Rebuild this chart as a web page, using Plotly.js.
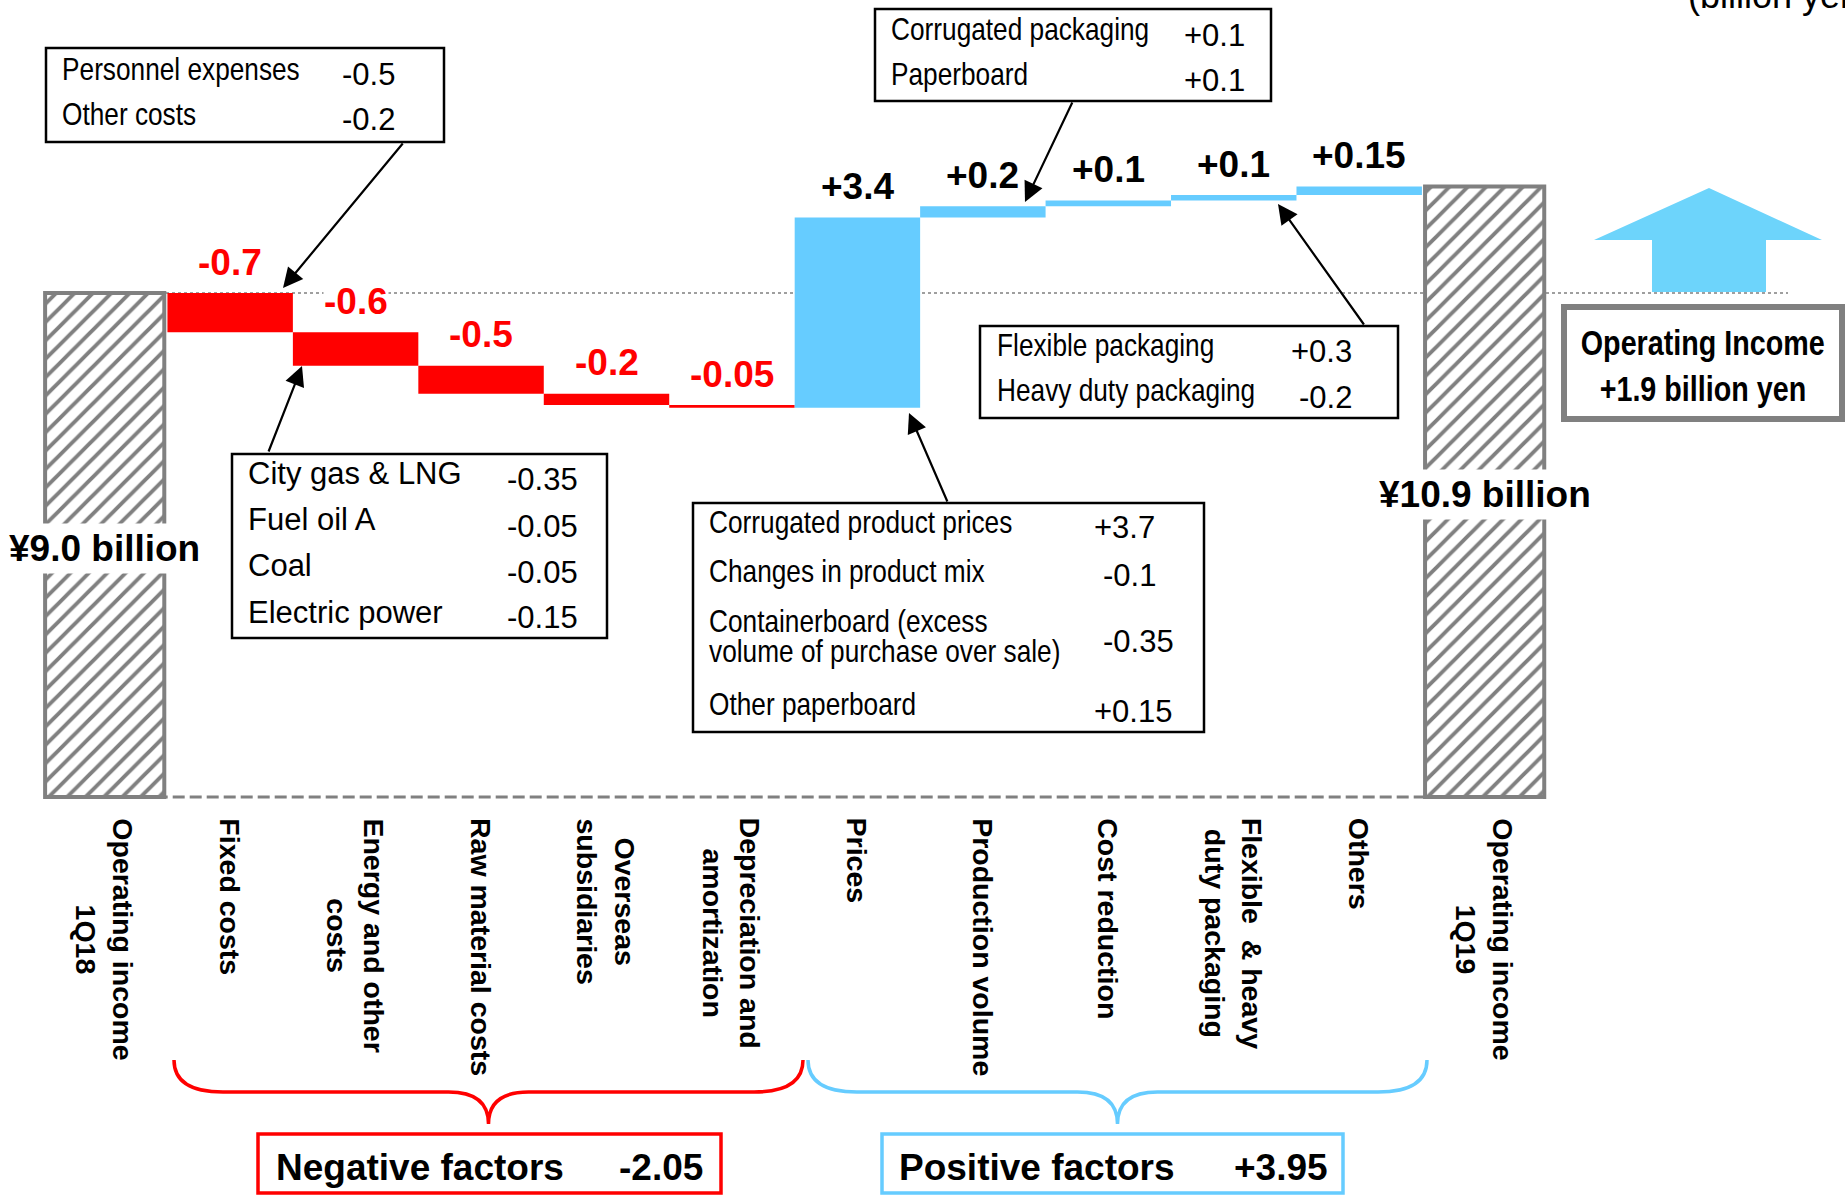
<!DOCTYPE html>
<html><head><meta charset="utf-8">
<script src="https://cdn.plot.ly/plotly-3.0.1.min.js"></script>
<style>html,body{margin:0;padding:0;background:#fff;overflow:hidden;} #chart{width:1845px;height:1195px;}</style>
</head><body><div id="chart"></div>
<script>
// ---------------- data ----------------
const categories = ['Operating income<br>1Q18','Fixed costs','Energy and other<br>costs','Raw material costs','Overseas<br>subsidiaries','Depreciation and<br>amortization','Prices','Production volume','Cost reduction','Flexible\u00a0 & heavy<br>duty packaging','Others','Operating income<br>1Q19'];
const startTotal = 9.0;
const endTotal = 10.9;
const deltas = [-0.7, -0.6, -0.5, -0.2, -0.05, 3.4, 0.2, 0.1, 0.1, 0.15];
const deltaLabels = ['-0.7','-0.6','-0.5','-0.2','-0.05','+3.4','+0.2','+0.1','+0.1','+0.15'];
const totalLabels = ['\u00a59.0 billion','\u00a510.9 billion'];
const fixedCostItems = ['Personnel expenses','Other costs'];
const fixedCostValues = ['-0.5','-0.2'];
const energyItems = ['City gas & LNG','Fuel oil A','Coal','Electric power'];
const energyValues = ['-0.35','-0.05','-0.05','-0.15'];
const priceItems = ['Corrugated product prices','Changes in product mix','Containerboard (excess','volume of purchase over sale)','Other paperboard'];
const priceValues = ['+3.7','-0.1','-0.35','+0.15'];
const productionItems = ['Corrugated packaging','Paperboard'];
const productionValues = ['+0.1','+0.1'];
const flexItems = ['Flexible packaging','Heavy duty packaging'];
const flexValues = ['+0.3','-0.2'];
const negativeSummary = ['Negative factors','-2.05'];
const positiveSummary = ['Positive factors','+3.95'];
const incomeChange = ['Operating Income','+1.9 billion yen'];
const unitLabel = '(billion yen)';

// ---------------- helpers (page pixel -> axis coordinates) ----------------
const X = px => (px - 104.7) / 125.45;
const Y = py => (797 - py) / 56;

const RED = '#FF0000', BLUE = '#66CCFF', GRAY = '#808080';
const SANS = 'Liberation Sans, Arial, sans-serif';
// condensed look: Arial-metric font squeezed horizontally after drawing
const NARROW = 'Liberation Sans, Arial Narrow, sans-serif';

// cumulative bases
const bases = [];
let run = startTotal;
deltas.forEach(d => { bases.push(run); run += d; });
const idx = deltas.map((d, i) => i + 1);
const negIdx = idx.filter((v, i) => deltas[i] < 0);
const posIdx = idx.filter((v, i) => deltas[i] >= 0);

const traces = [
  { type: 'bar', x: [0, categories.length - 1], y: [startTotal, endTotal], base: [0, 0], width: 0.95,
    marker: { color: '#ffffff', line: { color: GRAY, width: 4 },
      pattern: { shape: '/', fgcolor: GRAY, bgcolor: '#ffffff', size: 13, solidity: 0.3, fillmode: 'replace' } },
    hoverinfo: 'skip' },
  { type: 'bar', x: negIdx, y: deltas.filter(d => d < 0), base: bases.filter((b, i) => deltas[i] < 0), width: 1,
    marker: { color: RED, line: { width: 0 } }, hoverinfo: 'skip' },
  { type: 'bar', x: posIdx, y: deltas.filter(d => d >= 0), base: bases.filter((b, i) => deltas[i] >= 0), width: 1,
    marker: { color: BLUE, line: { width: 0 } }, hoverinfo: 'skip' }
];

// ---------------- annotations ----------------
const ann = [];
const narrowIdx = [];
const REG = size => ({ family: SANS, size: size, color: '#000' });
function txt(text, px, py, size, opts, narrow) {
  const a = Object.assign({ xref: 'x', yref: 'y', x: X(px), y: Y(py), text: text, showarrow: false,
    xanchor: 'left', yanchor: 'middle', font: { family: NARROW, size: size, color: '#000' } }, opts || {});
  if (narrow !== false) narrowIdx.push(ann.length);
  return a;
}
// delta value labels
deltas.forEach((d, i) => {
  const top = Math.max(bases[i], bases[i] + d);
  ann.push({ xref: 'x', yref: 'y', x: i + 1, y: top, yshift: 31, text: '<b>' + deltaLabels[i] + '</b>', showarrow: false,
    xanchor: 'center', yanchor: 'middle', bgcolor: d < 0 ? '#ffffff' : 'rgba(0,0,0,0)', borderpad: 0,
    font: { family: SANS, size: 37, color: d < 0 ? RED : '#000' } });
});
// total labels
[startTotal, endTotal].forEach((v, k) => {
  ann.push({ xref: 'x', yref: 'y', x: k === 0 ? 0 : categories.length - 1, y: v / 2, yshift: -3,
    text: '<b>' + totalLabels[k] + '</b>', showarrow: false, xanchor: 'center', yanchor: 'middle',
    bgcolor: '#ffffff', borderpad: 4, font: { family: SANS, size: 37, color: '#000' } });
});
// category labels (vertical)
categories.forEach((c, i) => {
  ann.push({ xref: 'x', yref: 'y', x: i, y: Y(816), text: '<b>' + c + '</b>', showarrow: false, textangle: 90,
    xanchor: 'center', yanchor: 'top', align: 'center', font: { family: SANS, size: 28.5, color: '#000' } });
});
// box A: fixed costs detail
const aRowsL = [68.5, 114], aRowsV = [74.5, 119];
fixedCostItems.forEach((t, i) => { ann.push(txt(t, 60, aRowsL[i], 32)); ann.push(txt(fixedCostValues[i], 340, aRowsV[i], 31, { font: REG(31) }, false)); });
// box B: energy detail (regular width)
const bRowsL = [473, 519, 565, 612], bRowsV = [479, 526, 572, 617];
energyItems.forEach((t, i) => {
  ann.push(txt(t, 246, bRowsL[i], 31, { font: REG(31) }, false));
  ann.push(txt(energyValues[i], 505, bRowsV[i], 31, { font: REG(31) }, false));
});
// box C: production volume detail
const cRowsL = [29, 74], cRowsV = [35, 80];
productionItems.forEach((t, i) => { ann.push(txt(t, 889, cRowsL[i], 32)); ann.push(txt(productionValues[i], 1182, cRowsV[i], 31, { font: REG(31) }, false)); });
// box D: flexible & heavy duty detail
const dRowsL = [345, 390], dRowsV = [351, 397];
flexItems.forEach((t, i) => { ann.push(txt(t, 995, dRowsL[i], 32)); ann.push(txt(flexValues[i], 1354, dRowsV[i], 31, { xanchor: 'right', font: REG(31) }, false)); });
// box E: prices detail
const eRowsL = [522, 571, 621, 651, 704];
priceItems.forEach((t, i) => ann.push(txt(t, 707, eRowsL[i], 32)));
const eRowsV = [527, 575, 641, 711], eValX = [1092, 1101, 1101, 1092];
priceValues.forEach((t, i) => ann.push(txt(t, eValX[i], eRowsV[i], 31, { font: REG(31) }, false)));
// summary boxes text
ann.push(txt('<b>' + negativeSummary[0] + '</b>', 274, 1167, 37, { font: REG(37) }, false));
ann.push(txt('<b>' + negativeSummary[1] + '</b>', 705, 1167, 37, { xanchor: 'right', font: REG(37) }, false));
ann.push(txt('<b>' + positiveSummary[0] + '</b>', 897, 1167, 37, { font: REG(37) }, false));
ann.push(txt('<b>' + positiveSummary[1] + '</b>', 1330, 1167, 37, { xanchor: 'right', font: REG(37) }, false));
ann.push(txt('<b>' + incomeChange[0] + '</b>', 1703, 342, 35, { xanchor: 'center' }));
ann.push(txt('<b>' + incomeChange[1] + '</b>', 1703, 388, 35, { xanchor: 'center' }));
ann.push(txt(unitLabel, 1686, 18, 36, { yanchor: 'bottom', font: REG(36) }, false));
// callout arrows: [headX, headY, tailX, tailY]
const arrows = [[283, 288, 404, 142], [302, 366, 268, 453], [1025, 202, 1073, 101], [1278, 204, 1365, 326], [909, 413, 948, 503]];
arrows.forEach(a => ann.push({ xref: 'x', yref: 'y', x: X(a[0]), y: Y(a[1]), ax: a[2] - a[0], ay: a[3] - a[1],
  axref: 'pixel', ayref: 'pixel', text: '', showarrow: true, arrowhead: 2, arrowsize: 1.8, arrowwidth: 2.2,
  arrowcolor: '#000', standoff: 0, startstandoff: 0 }));

// ---------------- shapes ----------------
const shapes = [];
function rect(x0, y0, x1, y1, color, w, fill) {
  return { type: 'rect', xref: 'x', yref: 'y', x0: X(x0), y0: Y(y0), x1: X(x1), y1: Y(y1),
    line: { color: color, width: w }, fillcolor: fill || 'rgba(0,0,0,0)', layer: 'above' };
}
// big up arrow
const up = [[1652, 292], [1652, 240], [1594, 240], [1709, 188], [1822, 240], [1766, 240], [1766, 292]];
shapes.push({ type: 'path', xref: 'x', yref: 'y', layer: 'below', fillcolor: '#6DD4FB', line: { width: 0 },
  path: 'M' + up.map(p => X(p[0]) + ',' + Y(p[1])).join(' L') + ' Z' });
// reference line at start level
shapes.push({ type: 'line', xref: 'x', yref: 'y', layer: 'below', x0: X(166), x1: X(1788), y0: startTotal, y1: startTotal,
  line: { color: GRAY, width: 1.5, dash: 'dot' } });
// baseline
shapes.push({ type: 'line', xref: 'x', yref: 'y', layer: 'below', x0: 0, x1: categories.length - 1, y0: 0, y1: 0,
  line: { color: GRAY, width: 3, dash: '12px,5px' } });
// callout boxes
shapes.push(rect(46, 48, 444, 142, '#000', 2.5, '#fff'));
shapes.push(rect(232, 454, 607, 638, '#000', 2.5, '#fff'));
shapes.push(rect(875, 9, 1271, 101, '#000', 2.5, '#fff'));
shapes.push(rect(980, 326, 1398, 418, '#000', 2.5, '#fff'));
shapes.push(rect(693, 503, 1204, 732, '#000', 2.5, '#fff'));
// summary boxes
shapes.push(rect(258, 1134, 721, 1193, RED, 3.5, '#fff'));
shapes.push(rect(882, 1134, 1343, 1193, BLUE, 3.5, '#fff'));
shapes.push(rect(1564, 307, 1842, 419, GRAY, 6, '#fff'));
// braces
function brace(xl, xr, color) {
  const xc = (xl + xr) / 2, yt = 1060, yh = 1092, yb = 1124, r = 49, c = 40;
  const p = (x, y) => X(x) + ',' + Y(y);
  return { type: 'path', xref: 'x', yref: 'y', layer: 'above', line: { color: color, width: 3.5 }, fillcolor: 'rgba(0,0,0,0)',
    path: 'M' + p(xl, yt) + ' Q' + p(xl, yh) + ' ' + p(xl + r, yh) + ' L' + p(xc - c, yh) + ' Q' + p(xc, yh) + ' ' + p(xc, yb) +
      ' Q' + p(xc, yh) + ' ' + p(xc + c, yh) + ' L' + p(xr - r, yh) + ' Q' + p(xr, yh) + ' ' + p(xr, yt) };
}
shapes.push(brace(174, 803, RED));
shapes.push(brace(808, 1427, BLUE));

const layout = {
  width: 1845, height: 1195, autosize: false,
  margin: { l: 0, r: 0, t: 0, b: 0, pad: 0 },
  paper_bgcolor: '#ffffff', plot_bgcolor: '#ffffff',
  showlegend: false, hovermode: false, barmode: 'overlay',
  xaxis: { range: [X(0), X(1845)], showgrid: false, zeroline: false, showticklabels: false, showline: false, ticks: '', fixedrange: true },
  yaxis: { range: [Y(1195), Y(0)], showgrid: false, zeroline: false, showticklabels: false, showline: false, ticks: '', fixedrange: true },
  annotations: ann, shapes: shapes
};
Plotly.newPlot('chart', traces, layout, { displayModeBar: false, staticPlot: true }).then(() => {
  // squeeze the callout texts horizontally to mimic the condensed face of the original
  narrowIdx.forEach(i => {
    const t = document.querySelector('g.annotation[data-index="' + i + '"] text.annotation-text');
    if (!t) return;
    const anc = ann[i].xanchor;
    t.style.transformBox = 'fill-box';
    t.style.transformOrigin = (anc === 'right' ? 'right' : anc === 'center' ? 'center' : 'left') + ' center';
    t.style.transform = 'scaleX(0.82)';
  });
});
</script></body></html>
